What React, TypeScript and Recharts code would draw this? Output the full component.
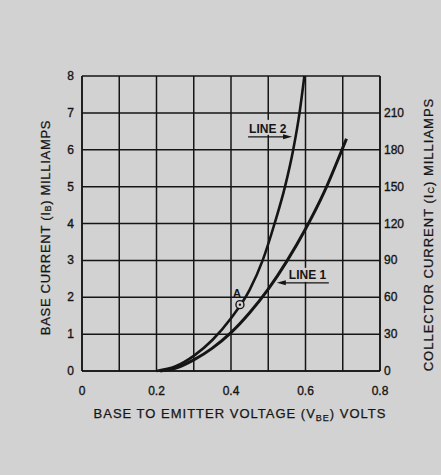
import { LineChart, Line, XAxis, YAxis, CartesianGrid, ReferenceDot, Label } from 'recharts';

const FONT = '"Liberation Sans", Arial, sans-serif';
const INK = '#151515';
const PAPER = '#d2d2d2';

const voltTicks = [0, 0.1, 0.2, 0.3, 0.4, 0.5, 0.6, 0.7, 0.8];
const baseTicks = [0, 1, 2, 3, 4, 5, 6, 7, 8];
const collectorTicks = [0, 30, 60, 90, 120, 150, 180, 210];
const collectorPerBase = 30; // right scale is 30x the left scale

// line 1 (lower curve)
const line1Volts = [0.21, 0.25, 0.3, 0.35, 0.4, 0.45, 0.5, 0.55, 0.6, 0.65, 0.7, 0.71];
const line1Base = [0, 0.07, 0.3, 0.62, 1.04, 1.58, 2.22, 2.98, 3.85, 4.85, 6.05, 6.3];

// line 2 (steeper curve)
const line2Volts = [0.2, 0.25, 0.3, 0.35, 0.4, 0.45, 0.485, 0.517, 0.545, 0.567, 0.584, 0.597];
const line2Base = [0, 0.12, 0.41, 0.84, 1.43, 2.2, 3.0, 4.0, 5.0, 6.0, 7.0, 8.0];

const pointA = { v: 0.424, i: 1.8 };
const line2Note = { v: 0.564, i: 6.35 };
const line1Note = { v: 0.523, i: 2.39 };

const line1 = line1Volts.map((v, k) => ({ v, i: line1Base[k], c: line1Base[k] * collectorPerBase }));
const line2 = line2Volts.map((v, k) => ({ v, i: line2Base[k], c: line2Base[k] * collectorPerBase }));

const tickStyle = { fontFamily: FONT, fontSize: 12, fill: INK, stroke: INK, strokeWidth: 0.35 };

const XTick = (props: any) => {
  const { x, y, payload } = props;
  if (Math.round(payload.value * 10) % 2 !== 0) return null;
  return (
    <text x={x} y={y + 16} textAnchor="middle" {...tickStyle}>
      {payload.value === 0 ? '0' : payload.value.toFixed(1)}
    </text>
  );
};

const LeftTick = (props: any) => {
  const { x, y, payload } = props;
  return (
    <text x={x} y={y + 4} textAnchor="end" {...tickStyle}>
      {payload.value}
    </text>
  );
};

const RightTick = (props: any) => {
  const { x, y, payload } = props;
  return (
    <text x={x - 4} y={y + 4} textAnchor="start" {...tickStyle}>
      {payload.value}
    </text>
  );
};

const titleStyle = { fontFamily: FONT, fontSize: 13, fill: INK, stroke: INK, strokeWidth: 0.25, letterSpacing: 1 };

const XTitle = (props: any) => {
  const vb = props.viewBox;
  return (
    <text x={vb.x + vb.width / 2 + 9} y={vb.y + 47} textAnchor="middle" {...titleStyle}>
      BASE TO EMITTER VOLTAGE (V
      <tspan fontSize={9} dy={3}>BE</tspan>
      <tspan dy={-3}>) VOLTS</tspan>
    </text>
  );
};

const LeftTitle = (props: any) => {
  const vb = props.viewBox;
  const cx = vb.x - 7;
  const cy = vb.y + vb.height / 2 + 4;
  return (
    <text
      x={cx}
      y={cy}
      textAnchor="middle"
      dominantBaseline="central"
      transform={`rotate(-90 ${cx} ${cy})`}
      {...titleStyle}
      letterSpacing={0.7}
    >
      BASE CURRENT (I
      <tspan fontSize={9} dy={3}>B</tspan>
      <tspan dy={-3}>) MILLIAMPS</tspan>
    </text>
  );
};

const RightTitle = (props: any) => {
  const vb = props.viewBox;
  const cx = vb.x + 48;
  const cy = vb.y + vb.height / 2 + 11;
  return (
    <text x={cx} y={cy} textAnchor="middle" dominantBaseline="central" transform={`rotate(-90 ${cx} ${cy})`} {...titleStyle}>
      COLLECTOR CURRENT (I
      <tspan fontSize={9} dy={3}>C</tspan>
      <tspan dy={-3}>) MILLIAMPS</tspan>
    </text>
  );
};

const PointAShape = (props: any) => {
  const { cx, cy } = props;
  return (
    <g>
      <circle cx={cx} cy={cy} r={4} fill={PAPER} stroke={INK} strokeWidth={1.4} />
      <circle cx={cx} cy={cy} r={1.2} fill={INK} />
      <text x={cx - 3} y={cy - 8} textAnchor="middle" fontFamily={FONT} fontWeight="bold" fontSize={11} fill={INK}>
        A
      </text>
    </g>
  );
};

const Line2Note = (props: any) => {
  const { cx, cy } = props;
  return (
    <g>
      <rect x={cx - 46} y={cy - 17} width={47} height={15} fill={PAPER} />
      <text x={cx - 43} y={cy - 4} fontFamily={FONT} fontWeight="bold" fontSize={12} fill={INK}>
        LINE 2
      </text>
      <line x1={cx - 44} y1={cy} x2={cx - 7} y2={cy} stroke={INK} strokeWidth={1.3} />
      <path d={`M${cx},${cy} L${cx - 9},${cy - 2.5} L${cx - 9},${cy + 2.5} Z`} fill={INK} />
    </g>
  );
};

const Line1Note = (props: any) => {
  const { cx, cy } = props;
  return (
    <g>
      <rect x={cx + 8} y={cy - 15} width={48} height={14} fill={PAPER} />
      <text x={cx + 12} y={cy - 4} fontFamily={FONT} fontWeight="bold" fontSize={12} fill={INK}>
        LINE 1
      </text>
      <line x1={cx + 7} y1={cy} x2={cx + 52} y2={cy} stroke={INK} strokeWidth={1.3} />
      <path d={`M${cx},${cy} L${cx + 9},${cy - 2.5} L${cx + 9},${cy + 2.5} Z`} fill={INK} />
    </g>
  );
};

export default function App() {
  return (
    <div style={{ position: 'absolute', left: 0, top: 0, width: 441, height: 475, background: PAPER }}>
      <LineChart width={441} height={475} margin={{ top: 76, right: 0, bottom: 74, left: 52 }}>
        <CartesianGrid yAxisId="left" stroke={INK} strokeWidth={1.5} fill="none" />
        <XAxis
          dataKey="v"
          type="number"
          domain={[0, 0.8]}
          ticks={voltTicks}
          tick={<XTick />}
          tickLine={false}
          axisLine={{ stroke: INK, strokeWidth: 1.5 }}
          height={30}
          interval={0}
        >
          <Label content={<XTitle />} />
        </XAxis>
        <YAxis
          yAxisId="left"
          type="number"
          domain={[0, 8]}
          ticks={baseTicks}
          tick={<LeftTick />}
          tickLine={false}
          axisLine={{ stroke: INK, strokeWidth: 1.5 }}
          width={30}
          interval={0}
        >
          <Label content={<LeftTitle />} />
        </YAxis>
        <YAxis
          yAxisId="right"
          orientation="right"
          type="number"
          domain={[0, 240]}
          ticks={collectorTicks}
          tick={<RightTick />}
          tickLine={false}
          axisLine={{ stroke: INK, strokeWidth: 1.5 }}
          width={61}
          interval={0}
        >
          <Label content={<RightTitle />} />
        </YAxis>
        {/* collector-current view of line 1 on the right scale (coincides with the drawn curve) */}
        <Line
          yAxisId="right"
          data={line1}
          dataKey="c"
          type="monotone"
          stroke="none"
          dot={false}
          activeDot={false}
          isAnimationActive={false}
        />
        <Line
          yAxisId="left"
          data={line1}
          dataKey="i"
          type="monotone"
          stroke={INK}
          strokeWidth={3}
          dot={false}
          isAnimationActive={false}
        />
        <Line
          yAxisId="left"
          data={line2}
          dataKey="i"
          type="monotone"
          stroke={INK}
          strokeWidth={2.6}
          dot={false}
          isAnimationActive={false}
        />
        <ReferenceDot yAxisId="left" x={pointA.v} y={pointA.i} shape={<PointAShape />} />
        <ReferenceDot yAxisId="left" x={line2Note.v} y={line2Note.i} shape={<Line2Note />} />
        <ReferenceDot yAxisId="left" x={line1Note.v} y={line1Note.i} shape={<Line1Note />} />
      </LineChart>
    </div>
  );
}
